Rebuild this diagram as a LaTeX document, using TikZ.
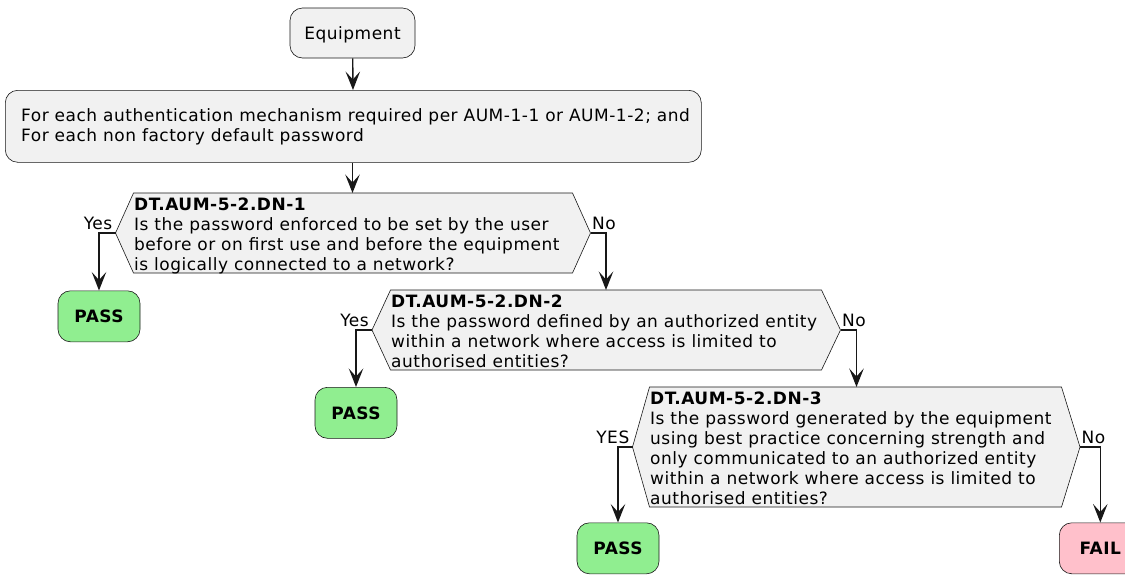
\documentclass[tikz,border=0pt]{standalone}
\usepackage{fontspec}
\setmainfont[LetterSpace=3]{DejaVu Sans}
\usetikzlibrary{arrows.meta}

\definecolor{inkline}{HTML}{181818}
\definecolor{boxfill}{HTML}{F1F1F1}
\definecolor{passfill}{HTML}{90EE90}
\definecolor{failfill}{HTML}{FFC0CB}

\tikzset{
  txt/.style={font=\fontsize{17}{20}\selectfont, inner sep=0pt, align=left},
  roundbox/.style={draw=inkline, fill=boxfill, line width=0.6pt, rounded corners=12.5pt,
    font=\fontsize{17}{20}\selectfont, text height=12.4pt, text depth=0pt},
  verdict/.style={roundbox, minimum width=82pt, minimum height=51pt,
    font=\fontsize{17}{20}\selectfont\bfseries},
  pass/.style={verdict, fill=passfill},
  fail/.style={verdict, fill=failfill},
  qarea/.style={inner sep=0pt, outer sep=0pt},
  hexagon/.style={draw=inkline, fill=boxfill, line width=0.6pt},
  branch/.style={txt},
  conn/.style={draw=inkline, line width=1.4pt, line join=miter,
    -{Stealth[length=18.5pt, width=14.5pt, inset=8pt]}},
}

\begin{document}
\begin{tikzpicture}[x=1pt, y=-1pt]
  \useasboundingbox (0,0) rectangle (1125,574);

  % start and loop boxes
  \node[roundbox, minimum width=125pt, minimum height=50pt] (equip) at (352.5,33) {Equipment};
  \node[roundbox, minimum width=696pt, minimum height=72pt, anchor=north west] (loop) at (5,90) {};
  % multi-line texts are placed by the baseline of their last line
  \node[txt, anchor=base west] (looptxt) at (21,141.5)
    {For each authentication mechanism required per AUM-1-1 or AUM-1-2; and\\
     For each non factory default password};

  % decision areas (inner rectangle of each hexagon)
  \node[qarea, minimum width=439pt, minimum height=80pt, anchor=north west] (q1) at (133.5,193) {};
  \node[qarea, minimum width=431pt, minimum height=80pt, anchor=north west] (q2) at (390.5,290) {};
  \node[qarea, minimum width=412pt, minimum height=120pt, anchor=north west] (q3) at (649.5,387) {};

  \coordinate (q1w) at ([xshift=-18pt]q1.west);
  \coordinate (q1e) at ([xshift=18pt]q1.east);
  \coordinate (q2w) at ([xshift=-18.5pt]q2.west);
  \coordinate (q2e) at ([xshift=19pt]q2.east);
  \coordinate (q3w) at ([xshift=-17pt]q3.west);
  \coordinate (q3e) at ([xshift=18.5pt]q3.east);

  \foreach \q in {q1,q2,q3}
    \path[hexagon] (\q.north west) -- (\q.north east) -- (\q e) -- (\q.south east)
      -- (\q.south west) -- (\q w) -- cycle;

  \node[txt, anchor=base west] (q1txt) at (134,270.5)
    {\textbf{DT.AUM-5-2.DN-1}\\
     Is the password enforced to be set by the user\\
     before or on first use and before the equipment\\
     is logically connected to a network?};
  \node[txt, anchor=base west] (q2txt) at (391,367.5)
    {\textbf{DT.AUM-5-2.DN-2}\\
     Is the password defined by an authorized entity\\
     within a network where access is limited to\\
     authorised entities?};
  \node[txt, anchor=base west] (q3txt) at (650,504)
    {\textbf{DT.AUM-5-2.DN-3}\\
     Is the password generated by the equipment\\
     using best practice concerning strength and\\
     only communicated to an authorized entity\\
     within a network where access is limited to\\
     authorised entities?};

  % outcomes
  \node[pass, anchor=north] (p1) at (99,290.5) {PASS};
  \node[pass, anchor=north] (p2) at (356,387) {PASS};
  \node[pass, anchor=north] (p3) at (618,522.5) {PASS};
  \node[fail, anchor=north west] (f3) at (1059,522.5) {FAIL};

  % branch labels
  \node[branch, anchor=base east] (y1) at ([xshift=-3pt, yshift=3.5pt]q1w) {Yes};
  \node[branch, anchor=base west] (n1) at ([xshift=1.5pt, yshift=3.5pt]q1e) {No};
  \node[branch, anchor=base east] (y2) at ([xshift=-3pt, yshift=3.5pt]q2w) {Yes};
  \node[branch, anchor=base west] (n2) at ([xshift=1.5pt, yshift=3.5pt]q2e) {No};
  \node[branch, anchor=base east] (y3) at ([xshift=-3pt, yshift=3.5pt]q3w) {YES};
  \node[branch, anchor=base west] (n3) at ([xshift=1.5pt, yshift=3.5pt]q3e) {No};

  % connectors
  \draw[conn] (equip) -- (loop);
  \draw[conn] (loop.south -| equip) -- (q1.north -| equip);
  \draw[conn] (q1w) -| (p1);
  \draw[conn] (q1e) -| (q2.north -| 606,0);
  \draw[conn] (q2w) -| (p2);
  \draw[conn] (q2e) -| (q3.north -| 856.5,0);
  \draw[conn] (q3w) -| (p3);
  \draw[conn] (q3e) -| (f3.north);
\end{tikzpicture}
\end{document}
